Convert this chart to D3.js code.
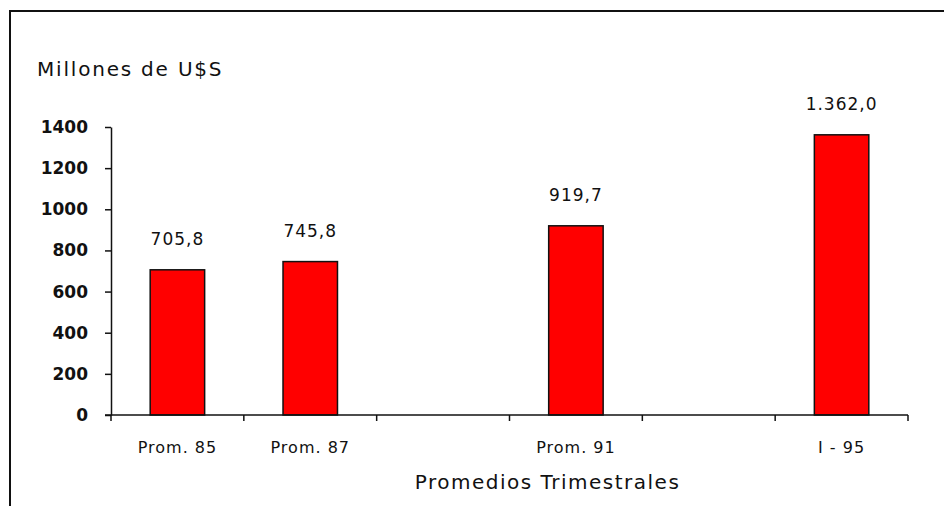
<!DOCTYPE html>
<html>
<head>
<meta charset="utf-8">
<script src="https://cdn.jsdelivr.net/npm/d3@7/dist/d3.min.js"></script>
<style>
  html, body { margin: 0; padding: 0; background: #fff; }
  svg { display: block; }
  text { fill: #111; font-family: "DejaVu Sans", sans-serif; }
</style>
</head>
<body>
<svg id="chart" width="944" height="506"></svg>
<script>
// Quarterly averages, millions of US$
const categories = ["Prom. 85", "Prom. 87", "", "Prom. 91", "", "I - 95"];
const values = [705.8, 745.8, null, 919.7, null, 1362.0];
const yTicks = [0, 200, 400, 600, 800, 1000, 1200, 1400];
const yTitle = "Millones de U$S";
const xTitle = "Promedios Trimestrales";

const svg = d3.select("#chart");
const W = 944, H = 506;

// outer frame (runs off the right and bottom edges)
svg.append("path")
  .attr("d", `M10,${H + 2} V11 H${W + 2}`)
  .attr("fill", "none")
  .attr("stroke", "#111")
  .attr("stroke-width", 2);

const plot = { left: 111, right: 908, top: 127, bottom: 415 };

const x = d3.scaleBand()
  .domain(d3.range(categories.length))
  .range([plot.left, plot.right])
  .paddingInner(0)
  .paddingOuter(0);

const y = d3.scaleLinear()
  .domain([0, 1400])
  .range([plot.bottom, plot.top]);

const es = d3.formatLocale({ decimal: ",", thousands: ".", grouping: [3], currency: ["$", ""] });
const fmt = es.format(",.1f");

// y axis
const yAxis = svg.append("g")
  .attr("transform", `translate(${plot.left},0)`)
  .call(d3.axisLeft(y).tickValues(yTicks).tickFormat(d3.format("d"))
    .tickSizeInner(6).tickSizeOuter(0).tickPadding(17));
yAxis.select(".domain").attr("stroke", "#111").attr("stroke-width", 1.5);
yAxis.selectAll(".tick line").attr("stroke", "#111").attr("stroke-width", 1.5);
yAxis.selectAll(".tick text")
  .attr("font-family", "DejaVu Sans, sans-serif")
  .attr("font-weight", "bold")
  .attr("font-size", 17)
  .attr("fill", "#111");

// bars
const barW = x.bandwidth() * 0.41;
const data = categories.map((c, i) => ({ i, c, v: values[i] })).filter(d => d.v != null);

svg.append("g").selectAll("rect")
  .data(data)
  .join("rect")
  .attr("x", d => x(d.i) + (x.bandwidth() - barW) / 2)
  .attr("y", d => y(d.v))
  .attr("width", barW)
  .attr("height", d => y(0) - y(d.v))
  .attr("fill", "#ff0000")
  .attr("stroke", "#111")
  .attr("stroke-width", 1.5);

// value labels
svg.append("g").selectAll("text")
  .data(data)
  .join("text")
  .attr("x", d => x(d.i) + x.bandwidth() / 2)
  .attr("y", d => y(d.v) - 25)
  .attr("text-anchor", "middle")
  .attr("font-size", 17)
  .attr("letter-spacing", 1)
  .text(d => fmt(d.v));

// x axis: labels centred in each band, ticks on band boundaries
const xAxis = svg.append("g")
  .attr("transform", `translate(0,${plot.bottom})`)
  .call(d3.axisBottom(x).tickSize(0).tickPadding(27).tickFormat(i => categories[i]));
xAxis.select(".domain").remove();
xAxis.selectAll(".tick text")
  .attr("font-family", "DejaVu Sans, sans-serif")
  .attr("font-size", 16)
  .attr("letter-spacing", 1)
  .attr("fill", "#111");

svg.append("line")
  .attr("x1", plot.left - 6).attr("x2", plot.right)
  .attr("y1", plot.bottom).attr("y2", plot.bottom)
  .attr("stroke", "#111").attr("stroke-width", 1.5);

const edges = d3.range(categories.length + 1).map(k => plot.left + k * x.step());
svg.append("g").selectAll("line")
  .data(edges)
  .join("line")
  .attr("x1", d => d).attr("x2", d => d)
  .attr("y1", plot.bottom).attr("y2", plot.bottom + 6)
  .attr("stroke", "#111").attr("stroke-width", 1.5);

// titles
svg.append("text")
  .attr("x", 37).attr("y", 76)
  .attr("font-size", 20)
  .attr("letter-spacing", 1.8)
  .text(yTitle);

svg.append("text")
  .attr("x", (plot.left + plot.right) / 2 + 38).attr("y", 489)
  .attr("text-anchor", "middle")
  .attr("font-size", 20)
  .attr("letter-spacing", 1.5)
  .text(xTitle);
</script>
</body>
</html>
